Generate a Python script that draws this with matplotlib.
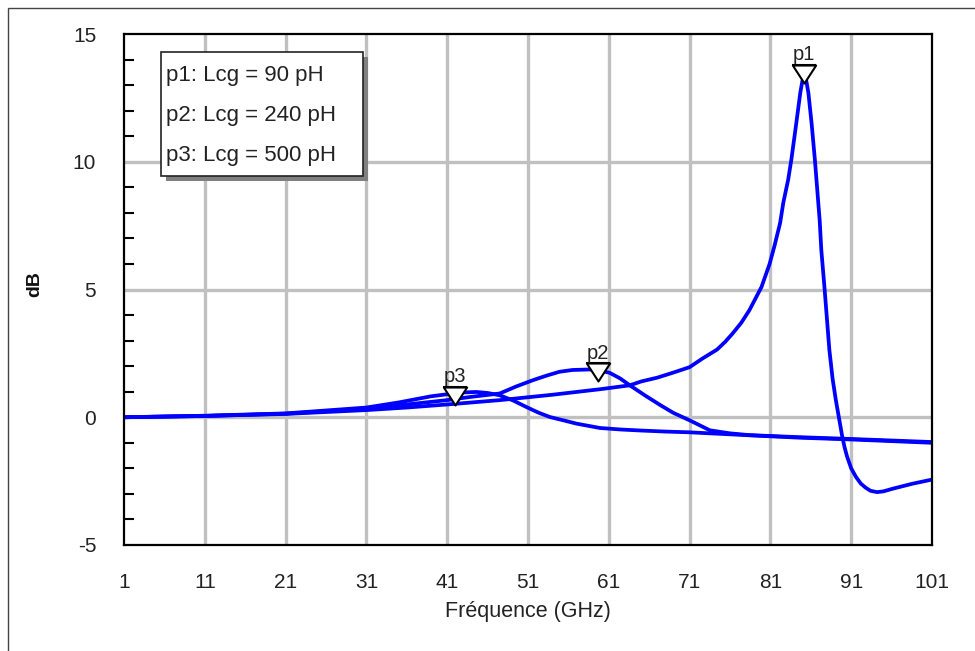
import matplotlib
matplotlib.use("Agg")
import matplotlib.pyplot as plt
from matplotlib.path import Path
from matplotlib.patches import Rectangle
from matplotlib.ticker import MultipleLocator
import matplotlib.transforms as mtransforms

plt.rcParams['font.family'] = ['Liberation Sans', 'DejaVu Sans']

# ---------------- data ----------------
freq_p1 = [1, 11, 21, 31, 36, 41, 47.5, 54, 60, 63.6, 65, 67, 69, 71, 72.6, 74.4,
           75.4, 76.3, 77.4, 78.4, 79.9, 80.9, 81.5, 82.2, 82.6, 83.2, 83.6, 84.2,
           84.7, 84.95, 85.2, 85.45, 85.7, 86.1, 86.5, 87.1, 87.3, 87.7, 88.3,
           88.7, 89.1, 89.9, 90.2, 90.5, 91.0, 91.6, 92.2, 92.8, 93.4, 94.2, 95.0,
           96.1, 98.6, 101]
db_p1 = [0, 0.05, 0.13, 0.28, 0.38, 0.5, 0.67, 0.88, 1.1, 1.25, 1.4, 1.55, 1.75,
         1.96, 2.3, 2.65, 2.95, 3.27, 3.7, 4.19, 5.1, 6.0, 6.7, 7.6, 8.4, 9.3,
         10.1, 11.5, 12.7, 13.15, 13.4, 13.15, 12.7, 11.5, 10.1, 7.7, 6.55, 5.05,
         2.63, 1.5, 0.67, -0.77, -1.2, -1.55, -2.0, -2.34, -2.6, -2.76, -2.88,
         -2.93, -2.9, -2.8, -2.6, -2.44]

freq_p2 = [1, 11, 21, 31, 36, 41, 44, 47.5, 49.5, 51.6, 53.3, 54.9, 56.5, 58.6,
           60, 61.1, 62.4, 63.6, 65.5, 67.4, 69, 71, 73.5, 76, 78.4, 84.6, 91, 101]
db_p2 = [0, 0.05, 0.14, 0.33, 0.5, 0.67, 0.8, 0.93, 1.2, 1.45, 1.63, 1.78, 1.85,
         1.87, 1.82, 1.74, 1.52, 1.25, 0.85, 0.47, 0.17, -0.12, -0.51, -0.63,
         -0.7, -0.78, -0.85, -0.97]

freq_p3 = [1, 11, 21, 31, 35, 39, 41, 43, 44.6, 46, 47.5, 49.2, 50.8, 52.3, 53.7,
           55.5, 57, 59.9, 62.5, 65, 68, 71, 78, 84.6, 91, 101]
db_p3 = [0, 0.06, 0.15, 0.38, 0.58, 0.82, 0.9, 0.97, 0.99, 0.95, 0.86, 0.65, 0.4,
         0.18, 0.01, -0.13, -0.25, -0.42, -0.48, -0.52, -0.56, -0.59, -0.7, -0.8,
         -0.87, -1.0]

marker_names = ['p1', 'p2', 'p3']
marker_freq = [85.1, 59.7, 42.0]
marker_db = [13.1, 1.4, 0.47]

legend_labels = ['p1: Lcg = 90 pH', 'p2: Lcg = 240 pH', 'p3: Lcg = 500 pH']

x_ticks = [1, 11, 21, 31, 41, 51, 61, 71, 81, 91, 101]
y_ticks = [-5, 0, 5, 10, 15]

# ---------------- figure ----------------
W, H = 975, 651
fig = plt.figure(figsize=(W / 100, H / 100), dpi=100)
L, R, T, B = 124, 932, 34, 545
ax = fig.add_axes([L / W, 1 - B / H, (R - L) / W, (B - T) / H])

# outer frame
fig.patches.append(Rectangle((8 / W, -0.01), 1.0, 1 - 8 / H + 0.01,
                             transform=fig.transFigure, fill=False,
                             edgecolor='#444444', linewidth=1.0, zorder=0))

ax.set_xlim(1, 101)
ax.set_ylim(-5, 15)
ax.set_xticks(x_ticks)
ax.set_yticks(y_ticks)
ax.set_xticklabels([str(v) for v in x_ticks])
ax.set_yticklabels([str(v) for v in y_ticks])
ax.yaxis.set_minor_locator(MultipleLocator(1))
ax.tick_params(axis='both', which='major', length=0, labelsize=15,
               labelcolor='#222222')
ax.tick_params(axis='x', which='major', pad=20)
ax.tick_params(axis='y', which='major', pad=20)
ax.tick_params(axis='y', which='minor', direction='in', length=7.5, width=1.5,
               color='black', left=True, right=False)
ax.tick_params(axis='x', which='minor', length=0)

for v in x_ticks[1:-1]:
    ax.axvline(v, color='#c0c0c0', linewidth=2.4, zorder=1)
for v in [0, 5, 10]:
    ax.axhline(v, color='#c0c0c0', linewidth=2.4, zorder=1)

for sp in ax.spines.values():
    sp.set_linewidth(1.6)
    sp.set_color('black')
    sp.set_zorder(5)

for fx, fy in [(freq_p1, db_p1), (freq_p2, db_p2), (freq_p3, db_p3)]:
    ax.plot(fx, fy, color='#0000ff', linewidth=2.7, solid_joinstyle='round',
            solid_capstyle='round', zorder=3)

# markers: inverted triangle with its tip on the point and a bar on top
tri = Path([(-11, 17), (0, 0), (11, 17), (-11, 17)],
           [Path.MOVETO, Path.LINETO, Path.LINETO, Path.CLOSEPOLY])
bar = Path([(-12, 18), (12, 18)], [Path.MOVETO, Path.LINETO])
ax.plot(marker_freq, marker_db, linestyle='none', marker=tri, markersize=25.9,
        markerfacecolor='white', markeredgecolor='black', markeredgewidth=1.5,
        zorder=6)
ax.plot(marker_freq, marker_db, linestyle='none', marker=bar, markersize=25.9,
        markerfacecolor='none', markeredgecolor='black', markeredgewidth=1.5,
        zorder=6)
for name, mx, my in zip(marker_names, marker_freq, marker_db):
    ax.annotate(name, (mx, my), xytext=(0, 13.5), textcoords='offset points',
                ha='center', va='bottom', fontsize=14.5, color='#222222',
                zorder=7)

# axis labels
ax.set_xlabel('Fréquence (GHz)', fontsize=15.5, color='#222222')
ax.xaxis.set_label_coords(0.5, -(611 - B) / (B - T))
ax.xaxis.label.set_va('center')
ax.set_ylabel('dB', fontsize=14, fontweight='bold', color='#111111')
ax.yaxis.set_label_coords(-(L - 35) / (R - L), 1 - (284 - T) / (B - T))
ax.yaxis.label.set_va('center')

# legend box (drawn in figure pixel coordinates)
px = mtransforms.Affine2D().scale(1 / W, -1 / H).translate(0, 1) + fig.transFigure
bx0, by0, bx1, by1 = 161, 52, 363, 176
fig.patches.append(Rectangle((bx0 + 5, by0 + 5), bx1 - bx0, by1 - by0,
                             transform=px, facecolor='#808080',
                             edgecolor='none', zorder=8))
fig.patches.append(Rectangle((bx0, by0), bx1 - bx0, by1 - by0, transform=px,
                             facecolor='white', edgecolor='#222222',
                             linewidth=1.2, zorder=9))
for i, lab in enumerate(legend_labels):
    fig.text(166, 75 + 40.5 * i, lab, transform=px, ha='left', va='center',
             fontsize=16, color='#222222', zorder=10)

fig.savefig('out.png', dpi=100)
